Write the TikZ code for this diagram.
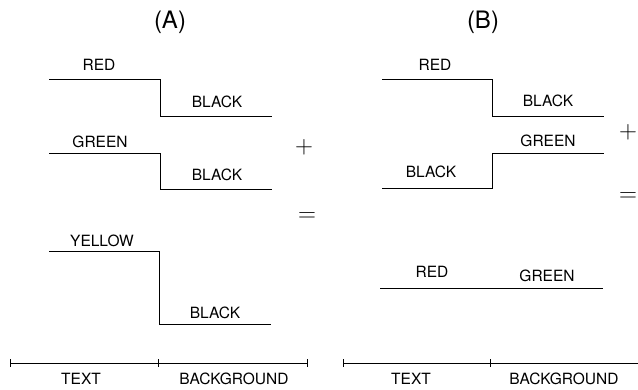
\documentclass[tikz,border=0pt]{standalone}
\usepackage{fontspec}
\setmainfont{TeX Gyre Heros}
\tikzset{
  lbl/.style={font=\fontsize{15.5}{18}\selectfont, inner sep=0pt},
  ttl/.style={font=\fontsize{24}{28}\selectfont, inner sep=0pt},
  sym/.style={font=\fontsize{23}{26}\selectfont, inner sep=0pt},
  wave/.style={line width=0.8pt},
}
\begin{document}
\begin{tikzpicture}[x=1pt,y=-1pt]
    \useasboundingbox (0,0) rectangle (638,389);

    % Panel A
    % -------
    \node[ttl] (tA) at (170,22) {(A)};

    \draw[wave] (49,79) -- (160,79) -- (160,116) -- (272,116);
    \node[lbl] (a1t) at (99,65) {RED};
    \node[lbl] (a1b) at (217,102) {BLACK};

    \draw[wave] (49,153) -- (160,153) -- (160,189) -- (272,189);
    \node[lbl] (a2t) at (100,142) {GREEN};
    \node[lbl] (a2b) at (217,175) {BLACK};

    \draw[wave] (49,251) -- (159,251) -- (159,324) -- (271,324);
    \node[lbl] (a3t) at (102,241) {YELLOW};
    \node[lbl] (a3b) at (215,313) {BLACK};

    \node[sym] (aplus) at (304,147) {$+$};
    \node[sym] (aeq)   at (307,217) {$=$};

    % Panel B
    % -------
    \node[ttl] (tB) at (483,22) {(B)};

    \draw[wave] (382,79) -- (492,79) -- (492,116) -- (604,116);
    \node[lbl] (b1t) at (435,65) {RED};
    \node[lbl] (b1b) at (548,101) {BLACK};

    \draw[wave] (382,188) -- (492,188) -- (492,153) -- (604,153);
    \node[lbl] (b2t) at (548,141) {GREEN};
    \node[lbl] (b2b) at (431,172) {BLACK};

    \draw[wave] (380,288) -- (603,288);
    \node[lbl] (b3t) at (432,272) {RED};
    \node[lbl] (b3b) at (547,276) {GREEN};

    \node[sym] (bplus) at (628,132) {$+$};
    \node[sym] (beq)   at (628,197) {$=$};

    % Axes
    % ----
    \draw[wave] (10,363) -- (307,363);
    \foreach \x in {10,158,307} \draw[wave] (\x,359) -- (\x,367);
    \node[lbl] (atext) at (81,379) {TEXT};
    \node[lbl] (aback) at (234,379) {BACKGROUND};

    \draw[wave] (343,363) -- (638,363);
    \foreach \x in {343,490} \draw[wave] (\x,359) -- (\x,367);
    \node[lbl] (btext) at (411,379) {TEXT};
    \node[lbl] (bback) at (564,379) {BACKGROUND};

\end{tikzpicture}
\end{document}
